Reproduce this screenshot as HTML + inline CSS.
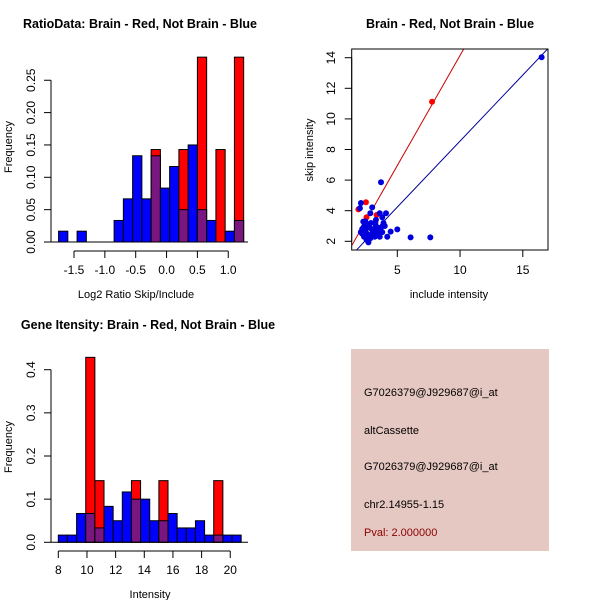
<!DOCTYPE html>
<html><head><meta charset="utf-8"><style>
body{margin:0;background:#fff;}
svg{display:block;font-family:"Liberation Sans",sans-serif;}
</style></head><body>
<svg id="c" width="600" height="600" viewBox="0 0 600 600"></svg>
<script>
// ---- data: ratio histogram ----
const ratioBreakStart = -1.75;
const ratioBinWidth = 0.15;
const ratioBlue = [0.0167,0,0.0167,0,0,0,0.0333,0.0667,0.1333,0.0667,0.1333,0.0833,0.1167,0.05,0.15,0.05,0.0333,0,0.0167,0.0333];
const ratioRed  = [0,0,0,0,0,0,0,0,0,0,0.1429,0,0,0.1429,0,0.2857,0,0.1429,0,0.2857];
const ratioXTicks = [-1.5,-1.0,-0.5,0.0,0.5,1.0];
const ratioXTickLabels = ["-1.5","-1.0","-0.5","0.0","0.5","1.0"];
const ratioYTicks = [0,0.05,0.10,0.15,0.20,0.25];
const ratioYTickLabels = ["0.00","0.05","0.10","0.15","0.20","0.25"];
// ---- data: intensity histogram ----
const intBreakStart = 8.0;
const intBinWidth = 0.638;
const intBlue = [0.0167,0.0167,0.0667,0.0667,0.0333,0.0833,0.05,0.1167,0.1,0.1,0.05,0.05,0.0667,0.0333,0.0333,0.05,0.0167,0.0167,0.0167,0.0167];
const intRed  = [0,0,0,0.4286,0.1429,0,0,0,0.1429,0,0,0.1429,0,0,0,0,0,0.1429,0,0];
const intXTicks = [8,10,12,14,16,18,20];
const intYTicks = [0,0.1,0.2,0.3,0.4];
const intYTickLabels = ["0.0","0.1","0.2","0.3","0.4"];
// ---- data: scatter ----
const blueX = [16.5,3.7,2.1,2.02,3.0,2.85,3.6,4.1,3.8,2.29,5.0,6.06,7.63,2.7,4.47,4.2,3.2,3.6,2.4,2.6,2.9,3.1,3.3,2.2,2.5,2.8,3.4,3.9,2.3,2.6,3.0,3.5,2.1,2.45,2.75,3.15,3.7,4.0,2.35,2.65,2.95,3.25,3.45,2.55,2.85,3.05,3.8,2.2,2.5,3.3];
const blueY = [14.03,5.86,4.5,4.16,4.22,3.83,3.83,3.83,3.57,3.29,2.78,2.26,2.26,1.93,2.63,2.3,2.3,2.3,3.1,2.9,3.2,2.7,3.0,2.5,2.6,2.4,2.8,3.2,2.9,2.2,2.5,2.7,2.6,3.3,3.0,2.4,2.9,3.0,2.3,3.1,2.8,3.2,2.5,2.1,2.2,2.6,2.6,2.8,2.4,3.4];
const redX = [7.77,1.9,2.5,2.55,3.35,2.1];
const redY = [11.12,4.09,4.55,3.57,3.72,2.6];
const redLine = [-0.25,1.44];   // intercept, slope
const blueLine = [-0.08,0.863];
const scXTicks = [5,10,15];
const scYTicks = [2,4,6,8,10,12,14];

const NS="http://www.w3.org/2000/svg";
const svg=document.getElementById('c');
function el(tag,attrs,parent,text){const e=document.createElementNS(NS,tag);for(const k in attrs)e.setAttribute(k,attrs[k]);if(text!==undefined)e.textContent=text;(parent||svg).appendChild(e);return e;}
const PURPLE="#7a167f";

function histogram(name,g,start,w,blue,red,sx,sy){
  const hg=el('g',{},g);
  
  
  for(let i=0;i<blue.length;i++){
    const x0=sx(start+i*w),x1=sx(start+(i+1)*w);
    const b=blue[i],r=red[i];
    const hi=Math.max(b,r),lo=Math.min(b,r);
    if(hi<=0)continue;
    const col= r>b? 'red':'blue';
    const e=el('rect',{x:x0,y:sy(hi),width:x1-x0,height:sy(0)-sy(hi),fill:col,stroke:'#000','stroke-width':1},hg);
    
    
    if(lo>0){
      const p=el('rect',{x:x0,y:sy(lo),width:x1-x0,height:sy(0)-sy(lo),fill:PURPLE,stroke:'#000','stroke-width':1},hg);
      
      
    }
  }
}
function yAxis(name,g,x,ticks,labels,sy,labx){
  const a=el('g',{},g);
  
  
  el('line',{x1:x,x2:x,y1:sy(ticks[0]),y2:sy(ticks[ticks.length-1]),stroke:'#000'},a);
  ticks.forEach((t,i)=>{const y=sy(t);el('line',{x1:x-7,x2:x,y1:y,y2:y,stroke:'#000'},a);
    el('text',{x:labx,y:y,'font-size':12,'text-anchor':'middle',transform:`rotate(-90 ${labx} ${y})`},a,labels[i]);});
}
function xAxis(name,g,y,ticks,labels,sx,laby){
  const a=el('g',{},g);
  
  
  el('line',{x1:sx(ticks[0]),x2:sx(ticks[ticks.length-1]),y1:y,y2:y,stroke:'#000'},a);
  ticks.forEach((t,i)=>{const x=sx(t);el('line',{x1:x,x2:x,y1:y,y2:y+7,stroke:'#000'},a);
    el('text',{x:x,y:laby,'font-size':12,'text-anchor':'middle'},a,labels[i]);});
}
function title(name,x,y,txt){const t=el('text',{x:x,y:y,'font-size':12.5,'font-weight':'bold','text-anchor':'middle'},svg,txt);
  }
function label(name,x,y,txt,rot){const t=el('text',{x:x,y:y,'font-size':11,'text-anchor':'middle',transform:rot?`rotate(-90 ${x} ${y})`:''},svg,txt);
  }

// Panel 1
{
  const g=el('g',{});
  const sx=v=>74+(v+1.5)*61.7, sy=v=>242-v*647;
  histogram('ratio',g,ratioBreakStart,ratioBinWidth,ratioBlue,ratioRed,sx,sy);
  el('line',{x1:51,x2:248,y1:242,y2:242,stroke:'#000'},g);
  yAxis('ratio-y-axis',g,51,ratioYTicks,ratioYTickLabels,sy,35);
  xAxis('ratio-x-axis',g,251,ratioXTicks,ratioXTickLabels,sx,274);
  title('ratio-title',140,28,'RatioData: Brain - Red, Not Brain - Blue');
  label('ratio-x-title',136,298,'Log2 Ratio Skip/Include');
  label('ratio-y-title',12,147,'Frequency',true);
}
// Panel 3
{
  const g=el('g',{});
  const sx=v=>58.3+(v-8)*14.33, sy=v=>542.3-v*431.5;
  histogram('intensity',g,intBreakStart,intBinWidth,intBlue,intRed,sx,sy);
  el('line',{x1:51,x2:248,y1:542.3,y2:542.3,stroke:'#000'},g);
  yAxis('intensity-y-axis',g,51,intYTicks,intYTickLabels,sy,35);
  xAxis('intensity-x-axis',g,551,intXTicks,intXTicks.map(String),sx,574);
  title('intensity-title',148,329,'Gene Itensity: Brain - Red, Not Brain - Blue');
  label('intensity-x-title',150,598,'Intensity');
  label('intensity-y-title',12,447,'Frequency',true);
}
// Panel 2 scatter
{
  const g=el('g',{});
  const sx=v=>397.3+(v-5)*12.55, sy=v=>241.3-(v-2)*15.3;
  const cp=el('clipPath',{id:'cl'},g);el('rect',{x:351.7,y:49,width:196.3,height:201},cp);
  const lg=el('g',{'clip-path':'url(#cl)'},g);
  [[redLine,'#cc0000','red-fit-line'],[blueLine,'#000099','blue-fit-line']].forEach(([c,col,n])=>{
    const l=el('line',{x1:sx(0),y1:sy(c[0]),x2:sx(20),y2:sy(c[0]+c[1]*20),stroke:col,'stroke-width':1},lg);
    });
  redX.forEach((x,i)=>{const p=el('circle',{cx:sx(x),cy:sy(redY[i]),r:3,fill:'red'},lg);
    });
  blueX.forEach((x,i)=>{const p=el('circle',{cx:sx(x),cy:sy(blueY[i]),r:3,fill:'#0000dd'},lg);
    });
  el('rect',{x:351.7,y:49,width:196.3,height:201,fill:'none',stroke:'#000'},g);
  yAxis('scatter-y-axis',g,351.7,scYTicks,scYTicks.map(String),sy,335);
  xAxis('scatter-x-axis',g,250,scXTicks,scXTicks.map(String),sx,274);
  title('scatter-title',450,28,'Brain - Red, Not Brain - Blue');
  label('scatter-x-title',449,298,'include intensity');
  label('scatter-y-title',313,150,'skip intensity',true);
}
// Info panel
{
  const g=el('g',{});
  el('rect',{x:351,y:349,width:198,height:202,fill:'#e6c8c2'},g);
  const lines=[['G7026379@J929687@i_at',396,'#000'],['altCassette',434,'#000'],['G7026379@J929687@i_at',470,'#000'],['chr2.14955-1.15',508,'#000'],['Pval: 2.000000',536,'#8b0000']];
  lines.forEach(([t,y,c],i)=>{const e=el('text',{x:364,y:y,'font-size':11,fill:c},g,t);
    });
}
</script>
</body></html>
